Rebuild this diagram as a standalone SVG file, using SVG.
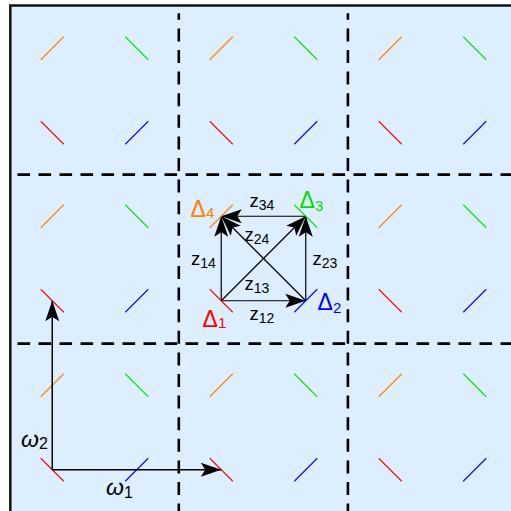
<svg xmlns="http://www.w3.org/2000/svg" width="511" height="511" viewBox="0 0 511 511">
<defs>
<style>
.bg{fill:#ddeeff;stroke:#111;stroke-width:2.5}
.gh{stroke:#000;stroke-width:2.6;stroke-dasharray:12.6 8.4;fill:none}
.gv{stroke:#000;stroke-width:2.6;stroke-dasharray:13 8.6;stroke-dashoffset:6.5;fill:none}
.m{stroke-width:1.1;fill:none}
.o{stroke:#ff8000}.g{stroke:#00e600}.r{stroke:#ff0000}.b{stroke:#0000ff}
.c{stroke:#000;stroke-width:1.2;fill:none}
.ax{stroke:#000;stroke-width:1.5;fill:none}
.t{font-family:"Liberation Sans",Arial,sans-serif;fill:#000}
.D{font-size:23px}
.s{font-size:15px}
.z{font-size:18.5px}
.zs{font-size:14px}
.w{font-size:23px;font-style:italic}
.ws{font-size:16px;font-style:normal}
</style>
<marker id="ah" viewBox="-21 -7.5 22 15" refX="0" refY="0" markerWidth="22" markerHeight="15" markerUnits="userSpaceOnUse" orient="auto">
<path d="M0,0 L-20.5,-7 L-16,0 L-20.5,7 Z" fill="#000"/>
</marker>
<g id="mo"><line class="m o" x1="-11.5" y1="11.5" x2="11.5" y2="-11.5"/></g>
<g id="mg"><line class="m g" x1="-11.5" y1="-11.5" x2="11.5" y2="11.5"/></g>
<g id="mr"><line class="m r" x1="-11.5" y1="-11.5" x2="11.5" y2="11.5"/></g>
<g id="mb"><line class="m b" x1="-11.5" y1="11.5" x2="11.5" y2="-11.5"/></g>
</defs>
<rect x="0" y="0" width="511" height="511" fill="#fff"/>
<rect class="bg" x="10.3" y="5.5" width="620" height="620"/>
<g id="grid">
<line class="gh" x1="17.5" y1="174.6" x2="511" y2="174.6"/>
<line class="gh" x1="17.5" y1="343.6" x2="511" y2="343.6"/>
<line class="gv" x1="178.8" y1="13.3" x2="178.8" y2="511"/>
<line class="gv" x1="347.9" y1="13.3" x2="347.9" y2="511"/>
</g>
<g id="marks">
<use href="#mo" x="52.25" y="48.25"/><use href="#mg" x="136.75" y="48.25"/><use href="#mr" x="52.25" y="132.75"/><use href="#mb" x="136.75" y="132.75"/>
<use href="#mo" x="221.25" y="48.25"/><use href="#mg" x="305.75" y="48.25"/><use href="#mr" x="221.25" y="132.75"/><use href="#mb" x="305.75" y="132.75"/>
<use href="#mo" x="390.25" y="48.25"/><use href="#mg" x="474.75" y="48.25"/><use href="#mr" x="390.25" y="132.75"/><use href="#mb" x="474.75" y="132.75"/>
<use href="#mo" x="52.25" y="216.25"/><use href="#mg" x="136.75" y="216.25"/><use href="#mr" x="52.25" y="300.75"/><use href="#mb" x="136.75" y="300.75"/>
<use href="#mo" x="390.25" y="216.25"/><use href="#mg" x="474.75" y="216.25"/><use href="#mr" x="390.25" y="300.75"/><use href="#mb" x="474.75" y="300.75"/>
<use href="#mo" x="52.25" y="385.25"/><use href="#mg" x="136.75" y="385.25"/><use href="#mr" x="52.25" y="469.75"/><use href="#mb" x="136.75" y="469.75"/>
<use href="#mo" x="221.25" y="385.25"/><use href="#mg" x="305.75" y="385.25"/><use href="#mr" x="221.25" y="469.75"/><use href="#mb" x="305.75" y="469.75"/>
<use href="#mo" x="390.25" y="385.25"/><use href="#mg" x="474.75" y="385.25"/><use href="#mr" x="390.25" y="469.75"/><use href="#mb" x="474.75" y="469.75"/>
</g>
<g id="axes">
<line class="ax" x1="52.25" y1="469.75" x2="52.25" y2="300.75" marker-end="url(#ah)"/>
<line class="ax" x1="52.25" y1="469.75" x2="221.25" y2="469.75" marker-end="url(#ah)"/>
<text class="t w" x="21" y="446.5">ω<tspan class="ws" dy="2">2</tspan></text>
<text class="t w" x="106" y="495">ω<tspan class="ws" dy="2.5">1</tspan></text>
</g>
<g id="connectors">
<line class="c" x1="221.25" y1="300.75" x2="305.75" y2="300.75" marker-end="url(#ah)"/>
<line class="c" x1="221.25" y1="300.75" x2="221.25" y2="216.25" marker-end="url(#ah)"/>
<line class="c" x1="221.25" y1="300.75" x2="305.75" y2="216.25" marker-end="url(#ah)"/>
<line class="c" x1="305.75" y1="300.75" x2="305.75" y2="216.25" marker-end="url(#ah)"/>
<line class="c" x1="305.75" y1="300.75" x2="221.25" y2="216.25" marker-end="url(#ah)"/>
<line class="c" x1="305.75" y1="216.25" x2="221.25" y2="216.25" marker-end="url(#ah)"/>
<text class="t z" x="249.5" y="320">z<tspan class="zs" dy="3">12</tspan></text>
<text class="t z" x="191" y="265">z<tspan class="zs" dy="3">14</tspan></text>
<text class="t z" x="244.5" y="290">z<tspan class="zs" dy="3">13</tspan></text>
<text class="t z" x="312.5" y="265">z<tspan class="zs" dy="3">23</tspan></text>
<text class="t z" x="244.5" y="240.5">z<tspan class="zs" dy="3">24</tspan></text>
<text class="t z" x="249.5" y="206.5">z<tspan class="zs" dy="3">34</tspan></text>
</g>
<g id="delta1">
<use href="#mr" x="221.25" y="300.75"/>
<text class="t D" x="202.5" y="326.5" style="fill:#ff0000">Δ<tspan class="s" dy="1.5">1</tspan></text>
</g>
<g id="delta2">
<use href="#mb" x="305.75" y="300.75"/>
<text class="t D" x="317.5" y="310" style="fill:#0000ff">Δ<tspan class="s" dy="2.5">2</tspan></text>
</g>
<g id="delta3">
<use href="#mg" x="305.75" y="216.25"/>
<text class="t D" x="299.5" y="208" style="fill:#00dd00">Δ<tspan class="s" dy="3">3</tspan></text>
</g>
<g id="delta4">
<use href="#mo" x="221.25" y="216.25"/>
<text class="t D" x="190.5" y="216.5" style="fill:#ff8000">Δ<tspan class="s" dy="1.5">4</tspan></text>
</g>
</svg>
